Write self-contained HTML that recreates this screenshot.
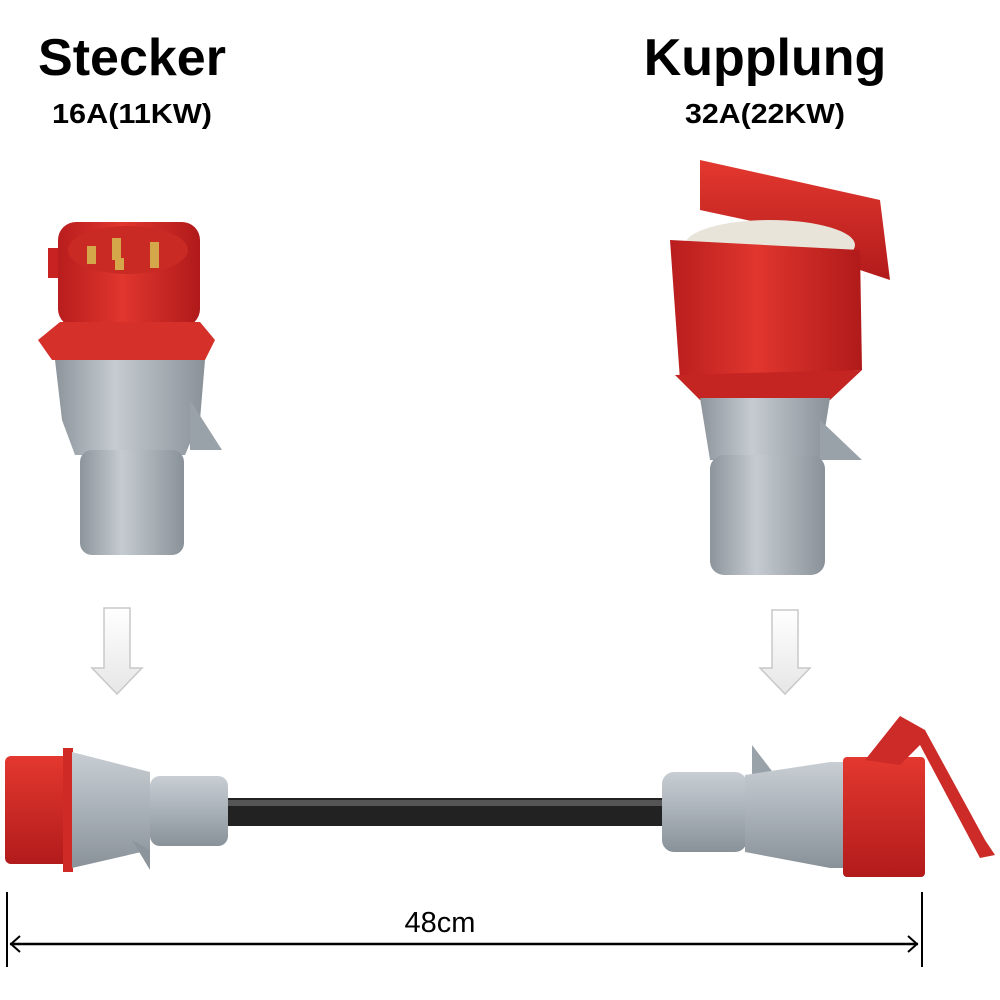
<!DOCTYPE html>
<html><head><style>
html,body{margin:0;padding:0;background:#fff;width:1000px;height:1000px;overflow:hidden}
svg{display:block}
</style></head><body>
<svg width="1000" height="1000" viewBox="0 0 1000 1000" xmlns="http://www.w3.org/2000/svg">
<defs>
<linearGradient id="gr" x1="0" x2="1"><stop offset="0" stop-color="#8d959c"/><stop offset="0.4" stop-color="#c5cbd0"/><stop offset="1" stop-color="#8a9299"/></linearGradient>
<linearGradient id="rd" x1="0" x2="1"><stop offset="0" stop-color="#b81d1d"/><stop offset="0.45" stop-color="#e0362e"/><stop offset="1" stop-color="#b01a1a"/></linearGradient>
<linearGradient id="grv" x1="0" y1="0" x2="0" y2="1"><stop offset="0" stop-color="#c8ced3"/><stop offset="0.5" stop-color="#a9b1b8"/><stop offset="1" stop-color="#8a9299"/></linearGradient>
<linearGradient id="rdv" x1="0" y1="0" x2="0" y2="1"><stop offset="0" stop-color="#e3382f"/><stop offset="1" stop-color="#b21b1b"/></linearGradient>
<linearGradient id="ar" x1="0" y1="0" x2="0" y2="1"><stop offset="0" stop-color="#fff"/><stop offset="1" stop-color="#e6e6e6"/></linearGradient>
</defs>
<g font-family="Liberation Sans, sans-serif" font-weight="bold" text-anchor="middle" fill="#000">
<text x="132" y="75" font-size="52">Stecker</text>
<text x="132" y="123" font-size="28" textLength="160" lengthAdjust="spacingAndGlyphs">16A(11KW)</text>
<text x="765" y="75" font-size="52">Kupplung</text>
<text x="765" y="123" font-size="28" textLength="160" lengthAdjust="spacingAndGlyphs">32A(22KW)</text>
</g>
<!-- left plug -->
<rect x="48" y="248" width="12" height="30" fill="#c82222"/>
<rect x="58" y="222" width="142" height="105" rx="18" fill="url(#rd)"/>
<ellipse cx="128" cy="250" rx="60" ry="24" fill="#c92a24"/>
<g fill="#d4a84a"><rect x="87" y="246" width="9" height="18"/><rect x="112" y="238" width="9" height="22"/><rect x="150" y="242" width="9" height="18"/><rect x="115" y="258" width="9" height="12"/><rect x="150" y="256" width="9" height="12"/></g>
<path d="M38 340 L60 322 L200 322 L215 340 L205 360 L52 360 Z" fill="#d5302a"/>
<path d="M55 360 L205 360 L200 420 L185 455 L75 455 L62 420 Z" fill="url(#gr)"/>
<path d="M190 400 L222 450 L190 450 Z" fill="#9aa2a9"/>
<rect x="80" y="450" width="104" height="105" rx="12" fill="url(#gr)"/>
<!-- right coupling -->
<path d="M700 160 L880 200 L890 280 L860 270 L840 240 L700 210 Z" fill="url(#rdv)"/>
<ellipse cx="770" cy="245" rx="85" ry="25" fill="#e8e4da"/>
<path d="M670 240 L860 250 L862 370 L680 380 Z" fill="url(#rd)"/>
<path d="M675 375 L862 370 L830 400 L700 400 Z" fill="#c42422"/>
<path d="M700 398 L830 398 L820 460 L710 460 Z" fill="url(#gr)"/>
<path d="M820 420 L862 460 L820 460 Z" fill="#9aa2a9"/>
<rect x="710" y="455" width="115" height="120" rx="14" fill="url(#gr)"/>
<!-- arrows -->
<path d="M104 608 L130 608 L130 668 L142 668 L117 694 L92 668 L104 668 Z" fill="url(#ar)" stroke="#c8c8c8" stroke-width="1.5"/>
<path d="M772 610 L798 610 L798 668 L810 668 L785 694 L760 668 L772 668 Z" fill="url(#ar)" stroke="#c8c8c8" stroke-width="1.5"/>
<!-- bottom cable -->
<rect x="225" y="798" width="440" height="28" fill="#222"/>
<rect x="225" y="800" width="440" height="6" fill="#555"/>
<rect x="5" y="756" width="65" height="108" rx="6" fill="url(#rdv)"/>
<rect x="63" y="748" width="10" height="124" fill="#d02a26"/>
<path d="M72 752 L150 772 L150 850 L72 868 Z" fill="url(#grv)"/>
<path d="M132 840 L150 870 L150 850 Z" fill="#8d959c"/>
<rect x="150" y="776" width="78" height="70" rx="10" fill="url(#grv)"/>
<rect x="662" y="772" width="85" height="80" rx="12" fill="url(#grv)"/>
<path d="M752 745 L775 775 L752 775 Z" fill="#9aa2a9"/>
<path d="M745 775 L830 762 L845 762 L845 868 L830 868 L745 852 Z" fill="url(#grv)"/>
<rect x="843" y="757" width="82" height="120" rx="4" fill="url(#rdv)"/>
<path d="M865 760 L900 716 L925 730 L985 840 L995 855 L980 858 L920 745 L900 765 Z" fill="#cc2b27"/>
<!-- dimension -->
<g stroke="#000" fill="none">
<line x1="7" y1="892" x2="7" y2="967" stroke-width="2"/>
<line x1="922" y1="892" x2="922" y2="967" stroke-width="2"/>
<line x1="10" y1="944" x2="918" y2="944" stroke-width="2.5"/>
<path d="M20 936 L11 944 L20 952" stroke-width="2"/>
<path d="M908 936 L917 944 L908 952" stroke-width="2"/>
</g>
<text x="440" y="932" font-family="Liberation Sans, sans-serif" font-size="29" text-anchor="middle">48cm</text>
</svg>
</body></html>
